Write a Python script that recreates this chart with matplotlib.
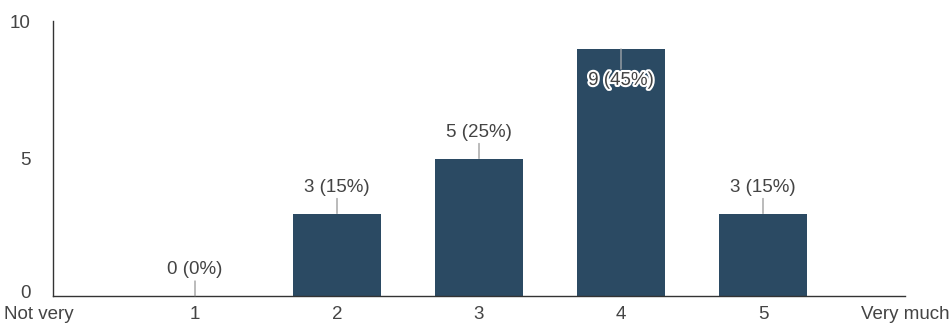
import matplotlib.pyplot as plt
import matplotlib.patheffects as pe
import matplotlib.transforms as mtransforms

# ---------------- DADOS ----------------
categorias = ["Not very", "1", "2", "3", "4", "5", "Very much"]
barras_x = [1, 2, 3, 4, 5]
contagens = [0, 3, 5, 9, 3]
percentuais = [0, 15, 25, 45, 15]
y_ticks = [0, 5, 10]

cor_barra = '#2b4a63'
cor_texto = '#444444'
tam_fonte = 13.5

plt.rcParams['font.family'] = ['Liberation Sans', 'DejaVu Sans']

fig = plt.figure(figsize=(9.52, 3.26), dpi=100)
ax = fig.add_axes([53/952, 30/326, 852/952, 275/326])

ax.bar(barras_x, contagens, width=0.62, color=cor_barra, zorder=2)

# rótulos com linha guia
for x, v, p in zip(barras_x, contagens, percentuais):
    txt = f"{v} ({p}%)"
    if v >= 8:
        # sem espaço acima: rótulo dentro da barra
        ax.annotate(txt, xy=(x, v), xytext=(0, -23), textcoords='offset points',
                    ha='center', va='center', fontsize=tam_fonte, color=cor_texto,
                    path_effects=[pe.withStroke(linewidth=3, foreground='white')],
                    arrowprops=dict(arrowstyle='-', color='#bbbbbb', lw=0.8,
                                    shrinkA=0, shrinkB=0), zorder=4)
    else:
        ax.annotate(txt, xy=(x, v), xytext=(0, 19), textcoords='offset points',
                    ha='center', va='center', fontsize=tam_fonte, color=cor_texto,
                    arrowprops=dict(arrowstyle='-', color='#888888', lw=0.8,
                                    shrinkA=0, shrinkB=0), zorder=4)

ax.set_xlim(0, 6)
ax.set_ylim(0, 10)
ax.set_xticks(range(len(categorias)))
ax.set_xticklabels(categorias, fontsize=tam_fonte, color=cor_texto)
ax.set_yticks(y_ticks)
ax.set_yticklabels([str(t) for t in y_ticks], fontsize=tam_fonte, color=cor_texto)
ax.tick_params(axis='x', length=0, pad=7)
ax.tick_params(axis='y', length=0, pad=16)

# "Not very" um pouco à esquerda, como no original
rotulo0 = ax.get_xticklabels()[0]
rotulo0.set_transform(rotulo0.get_transform() +
                      mtransforms.ScaledTranslation(-10/72, 0, fig.dpi_scale_trans))
# "0" do eixo y um pouco acima para não encostar em "Not very"
zero_y = ax.get_yticklabels()[0]
zero_y.set_transform(zero_y.get_transform() +
                     mtransforms.ScaledTranslation(0, 3/72, fig.dpi_scale_trans))

for lado in ['top', 'right']:
    ax.spines[lado].set_visible(False)
ax.spines['left'].set_color('#333333')
ax.spines['bottom'].set_color('#333333')
ax.spines['left'].set_linewidth(1)
ax.spines['bottom'].set_linewidth(1)

fig.savefig('out.png', dpi=100)
